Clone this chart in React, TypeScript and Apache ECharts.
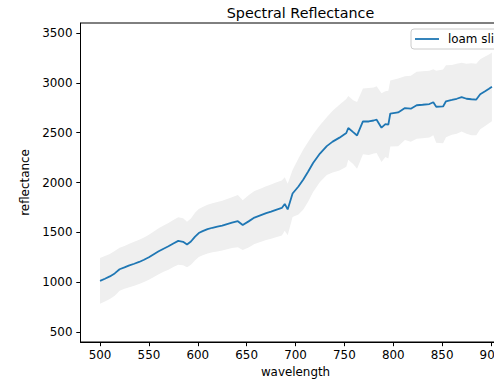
import React, { useEffect, useRef } from "react";
import * as echarts from "echarts";

const wavelengths = [
  500, 505, 510, 515, 520, 525, 530, 535, 540, 545,
  550, 555, 560, 565, 570, 575, 580, 585, 589, 593,
  597, 601, 605, 610, 615, 620, 625, 630, 635, 641,
  646, 652, 658, 664, 670, 675, 680, 686, 689, 692,
  697, 703, 708, 713, 718, 725, 732, 738, 745, 752,
  754, 759, 763, 769, 775, 780, 783, 788, 792, 795,
  797, 805, 812, 818, 824, 830, 837, 841, 844, 851,
  854, 860, 865, 870, 875, 880, 885, 889, 894, 898,
  901,
];

const meanReflectance = [
  1013, 1035, 1058, 1088, 1130, 1148, 1168, 1185, 1203, 1225,
  1250, 1280, 1310, 1336, 1360, 1388, 1414, 1405, 1378, 1408,
  1455, 1493, 1512, 1532, 1546, 1557, 1567, 1583, 1597, 1612,
  1573, 1610, 1648, 1670, 1692, 1708, 1725, 1745, 1785, 1730,
  1890, 1960, 2030, 2110, 2195, 2290, 2365, 2410, 2450, 2497,
  2547, 2505, 2472, 2613, 2612, 2622, 2630, 2550, 2585, 2580,
  2692, 2703, 2747, 2740, 2775, 2780, 2787, 2805, 2760, 2763,
  2815, 2828, 2840, 2857, 2840, 2835, 2832, 2885, 2915, 2940,
  2960,
];

const stdReflectance = [
  230, 228, 226, 224, 215, 215, 218, 220, 222, 224,
  226, 228, 230, 232, 234, 236, 238, 236, 228, 232,
  238, 240, 242, 244, 246, 248, 250, 252, 255, 262,
  250, 262, 266, 268, 270, 272, 274, 276, 268, 258,
  235, 280, 300, 300, 290, 285, 290, 310, 330, 340,
  320, 320, 335, 330, 335, 330, 335, 345, 330, 340,
  330, 340, 320, 330, 335, 335, 335, 330, 362, 370,
  360, 350, 352, 345, 352, 360, 358, 352, 348, 345,
  345,
];

const xTicks = [500, 550, 600, 650, 700, 750, 800, 850, 900];
const yTicks = [500, 1000, 1500, 2000, 2500, 3000, 3500];
const seriesName = "loam slit";

const FONT = "DejaVu Sans";

export default function App() {
  const ref = useRef<HTMLDivElement>(null);

  useEffect(() => {
    if (!ref.current) return;
    const chart = echarts.init(ref.current, null, { renderer: "svg" });
    const meanData = wavelengths.map((w, i) => [w, meanReflectance[i]]);
    const option: any = {
      animation: false,
      backgroundColor: "#ffffff",
      title: {
        text: "Spectral Reflectance",
        left: 295.5,
        top: 1,
        textAlign: "center",
        textStyle: { fontFamily: FONT, fontSize: 14.3, fontWeight: "normal", color: "#000" },
      },
      legend: {
        data: [{ name: seriesName, icon: "rect" }],
        left: 411,
        top: 29,
        orient: "vertical",
        padding: [4, 6, 4, 4],
        itemWidth: 24,
        itemHeight: 1.8,
        backgroundColor: "rgba(255,255,255,0.8)",
        borderColor: "#cccccc",
        borderWidth: 1,
        borderRadius: 3,
        textStyle: { fontFamily: FONT, fontSize: 11.9, color: "#000", padding: [0, 0, 0, 4] },
      },
      grid: {
        left: 80.5,
        top: 23,
        width: 430,
        height: 320,
        show: true,
        borderColor: "#000",
        borderWidth: 1,
        backgroundColor: "transparent",
      },
      xAxis: {
        type: "value",
        min: 480,
        max: 920,
        name: "wavelength",
        nameLocation: "middle",
        nameGap: 24,
        nameTextStyle: { fontFamily: FONT, fontSize: 11.9, color: "#000" },
        axisLine: { show: true, lineStyle: { color: "#000", width: 1 } },
        axisTick: { show: true, length: 4.2, customValues: xTicks, lineStyle: { color: "#000", width: 1 } },
        axisLabel: {
          customValues: xTicks,
          margin: 7,
          fontFamily: FONT,
          fontSize: 11.9,
          color: "#000",
          formatter: (v: number) => String(v),
        },
        splitLine: { show: false },
      },
      yAxis: {
        type: "value",
        min: 400,
        max: 3600,
        name: "reflectance",
        nameLocation: "middle",
        nameGap: 40,
        nameRotate: 90,
        nameTextStyle: { fontFamily: FONT, fontSize: 11.9, color: "#000" },
        axisLine: { show: true, lineStyle: { color: "#000", width: 1 } },
        axisTick: { show: true, length: 4.2, customValues: yTicks, lineStyle: { color: "#000", width: 1 } },
        axisLabel: {
          customValues: yTicks,
          margin: 8,
          fontFamily: FONT,
          fontSize: 11.9,
          color: "#000",
          formatter: (v: number) => String(v),
        },
        splitLine: { show: false },
      },
      series: [
        {
          type: "custom",
          name: "band",
          silent: true,
          clip: true,
          data: [[wavelengths[0], meanReflectance[0]]],
          renderItem: (params: any, api: any) => {
            const top = wavelengths.map((w, i) => api.coord([w, meanReflectance[i] + stdReflectance[i]]));
            const bottom = wavelengths
              .map((w, i) => api.coord([w, meanReflectance[i] - stdReflectance[i]]))
              .reverse();
            return {
              type: "polygon",
              shape: { points: top.concat(bottom) },
              style: { fill: "#efefef", stroke: "none" },
            };
          },
          z: 1,
        },
        {
          type: "line",
          name: seriesName,
          data: meanData,
          symbol: "none",
          showSymbol: false,
          color: "#1f77b4",
          lineStyle: { color: "#1f77b4", width: 1.8 },
          z: 3,
        },
      ],
    };
    chart.setOption(option);
    return () => chart.dispose();
  }, []);

  return (
    <div style={{ position: "fixed", left: 0, top: 0, width: 494, height: 383, overflow: "hidden", background: "#fff" }}>
      <div ref={ref} style={{ width: 530, height: 383 }} />
    </div>
  );
}
